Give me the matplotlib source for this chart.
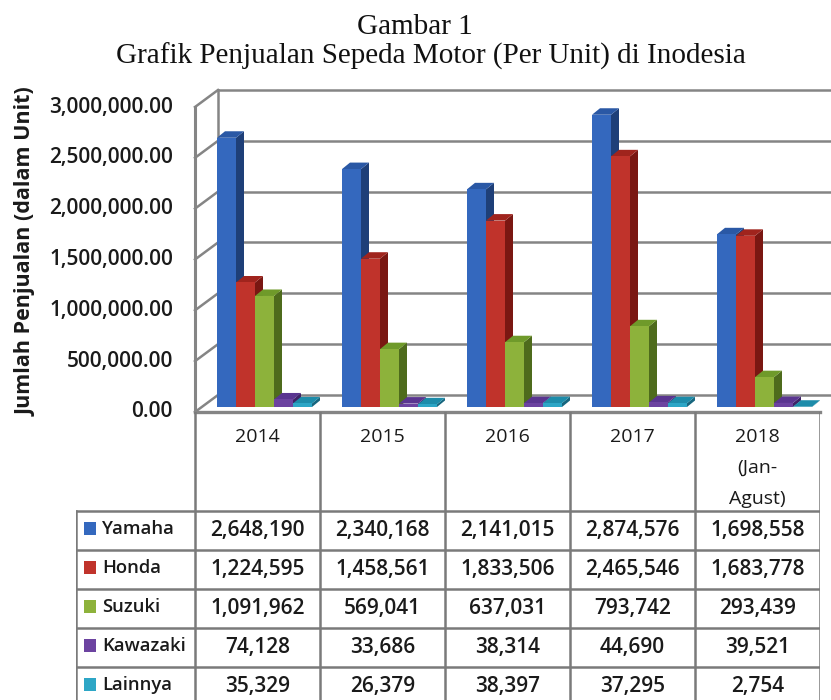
import matplotlib
matplotlib.use('Agg')
import matplotlib.pyplot as plt
from matplotlib.patches import Polygon

# ---------------- data ----------------
years = ['2014', '2015', '2016', '2017', '2018\n(Jan-\nAgust)']
brands = ['Yamaha', 'Honda', 'Suzuki', 'Kawazaki', 'Lainnya']
yamaha = [2648190, 2340168, 2141015, 2874576, 1698558]
honda = [1224595, 1458561, 1833506, 2465546, 1683778]
suzuki = [1091962, 569041, 637031, 793742, 293439]
kawazaki = [74128, 33686, 38314, 44690, 39521]
lainnya = [35329, 26379, 38397, 37295, 2754]
series = [yamaha, honda, suzuki, kawazaki, lainnya]
y_ticks = [0, 500000, 1000000, 1500000, 2000000, 2500000, 3000000]

front_cols = ['#3468BE', '#C0332B', '#8DB23B', '#6C43A0', '#2DA6C6']
side_cols = ['#1E3F78', '#7A1712', '#4E6B1C', '#3E2366', '#17667E']
top_cols = ['#2A58A5', '#A0241D', '#6F9A2A', '#5A3590', '#1D8CAA']

W, H = 831, 700
fig = plt.figure(figsize=(W / 100, H / 100), dpi=100)
fig.patch.set_facecolor('white')

def fx(px):
    return px / W

def fy(py):
    return 1 - py / H

TXT = '#1a1a1a'

# ---------------- chart axes ----------------
X0, X1 = 195, 820          # pixel extent of categories
Y0, Y1 = 412, 107          # pixel of 0 and 3M on the front plane
ax = fig.add_axes([fx(X0), fy(Y0), fx(X1) - fx(X0), fy(Y1) - fy(Y0)])
ax.set_xlim(-0.5, 4.5)
ax.set_ylim(0, 3000000)
ax.axis('off')

pxx = (X1 - X0) / 5.0                 # px per category unit
pxy = (Y0 - Y1) / 3000000.0           # px per value unit
def dx(p):
    return p / pxx
def dy(p):
    return p / pxy

GC = '#858585'
GLW = 1.8
# back wall depth
DX, DY = dx(23), dy(17)
xr = 4.7
for v in y_ticks:
    ax.plot([-0.5 + DX, xr], [v + DY, v + DY], color=GC, lw=GLW, clip_on=False, zorder=1)
    ax.plot([-0.5, -0.5 + DX], [v, v + DY], color=GC, lw=GLW, clip_on=False, zorder=1)
ax.plot([-0.5 + DX, -0.5 + DX], [DY, 3000000 + DY], color=GC, lw=GLW, clip_on=False, zorder=1)
ax.plot([-0.5, -0.5], [0, 3000000], color=GC, lw=GLW + 0.4, clip_on=False, zorder=1)
ax.plot([-0.5, 4.5], [0, 0], color=GC, lw=GLW + 0.6, clip_on=False, zorder=1)

# bars
bw = dx(19)
bx, by = dx(7), dy(5)
bdx, bdy = dx(8), dy(6.5)
for i in range(len(years)):
    for j, s in enumerate(series):
        v = s[i]
        x0 = i - 2.5 * bw + j * bw + bx
        side = Polygon([(x0 + bw, by), (x0 + bw + bdx, by + bdy),
                        (x0 + bw + bdx, by + v + bdy), (x0 + bw, by + v)],
                       closed=True, facecolor=side_cols[j], edgecolor='none', zorder=3, clip_on=False)
        top = Polygon([(x0, by + v), (x0 + bdx, by + v + bdy),
                       (x0 + bw + bdx, by + v + bdy), (x0 + bw, by + v)],
                      closed=True, facecolor=top_cols[j], edgecolor='none', zorder=3, clip_on=False)
        ax.add_patch(side)
        ax.add_patch(top)
        ax.bar(x0, v, width=bw, bottom=by, align='edge', color=front_cols[j],
               edgecolor='none', zorder=3, clip_on=False)

# y tick labels
for v in y_ticks:
    ax.text(-0.5 - dx(22), v, f'{v:,.2f}', ha='right', va='center',
            fontsize=15, fontweight='semibold', family='Open Sans', color=TXT, clip_on=False)

# axis title
fig.text(fx(26), fy(252), 'Jumlah Penjualan (dalam Unit)', rotation=90,
         ha='center', va='center', fontsize=15.5, fontweight='bold',
         family='Open Sans', color=TXT)

# chart title
fig.text(fx(415), fy(27), 'Gambar 1', ha='center', va='center',
         fontsize=21, family='Liberation Serif', color='#111111')
fig.text(fx(431), fy(56), 'Grafik Penjualan Sepeda Motor (Per Unit) di Inodesia',
         ha='center', va='center', fontsize=21, family='Liberation Serif', color='#111111')

# ---------------- table axes ----------------
TL = 76
TT = 412
RH = 39.0
HDR = 99.0
tab = fig.add_axes([fx(TL), 0, fx(X1) - fx(TL), fy(TT)])
xl = -0.5 - (X0 - TL) / pxx
tab.set_xlim(xl, 4.5)
nrows_h = (H - TT) / RH
tab.set_ylim(nrows_h, 0)
tab.axis('off')

hdr = HDR / RH
TC = '#7a7a7a'
TLW = 1.8
# header verticals
for k in range(len(years) + 1):
    tab.plot([-0.5 + k, -0.5 + k], [0, nrows_h + 1], color=TC, lw=TLW, clip_on=True)
# left column vertical
tab.plot([xl, xl], [hdr, nrows_h + 1], color=TC, lw=TLW)
# row lines
for r in range(len(brands)):
    tab.plot([xl, 4.5], [hdr + r, hdr + r], color=TC, lw=TLW)

# header text
for i, yl in enumerate(years):
    for k, line in enumerate(yl.split('\n')):
        tab.text(i, (25 + 31 * k) / RH, line, ha='center', va='center',
                 fontsize=14, family='Open Sans', color=TXT)

# rows
for j, (b, s) in enumerate(zip(brands, series)):
    yc = hdr + j + 0.5
    tab.scatter([xl + dx(14)], [yc - 0.05], marker='s', s=80, color=front_cols[j],
                edgecolors='none', zorder=3)
    tab.text(xl + dx(26), yc - 0.05, b, ha='left', va='center', fontsize=13.3,
             fontweight='semibold', family='Open Sans', color=TXT)
    for i, v in enumerate(s):
        tab.text(i, yc, f'{v:,}', ha='center', va='center', fontsize=15,
                 fontweight='semibold', family='Open Sans', color=TXT)

fig.savefig('out.png', dpi=100, facecolor='white')
